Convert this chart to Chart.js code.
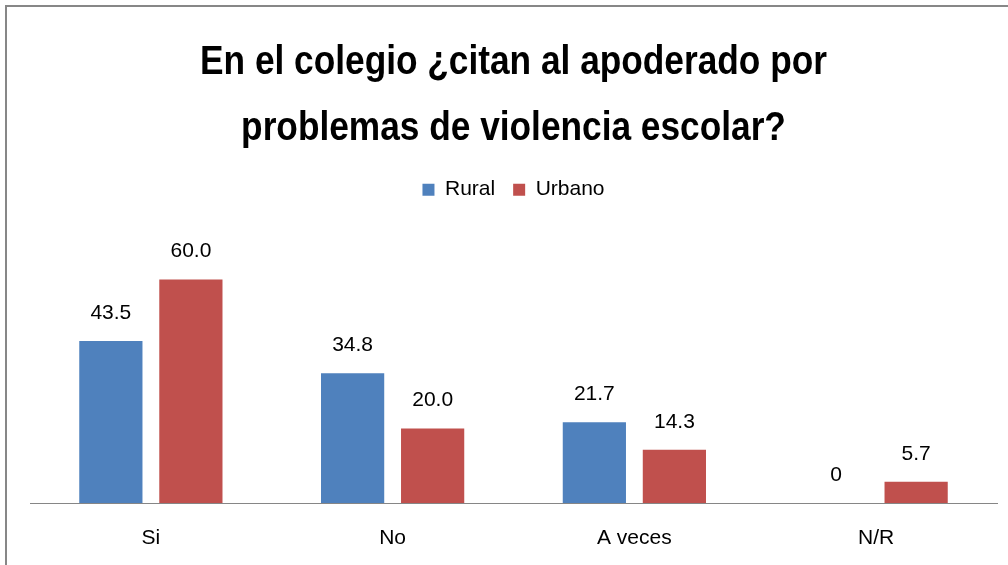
<!DOCTYPE html>
<html>
<head>
<meta charset="utf-8">
<script src="https://cdn.jsdelivr.net/npm/chart.js@4/dist/chart.umd.min.js"></script>
<style>
  html, body { margin: 0; padding: 0; background: #fff; }
  #wrap { position: relative; width: 1008px; height: 565px; overflow: hidden; }
</style>
</head>
<body>
<div id="wrap"><canvas id="chart" width="1008" height="565"></canvas></div>
<script>
const categories = ['Si', 'No', 'A veces', 'N/R'];
const rural = [43.5, 34.8, 21.7, 0];
const urbano = [60.0, 20.0, 14.3, 5.7];
const titleLines = ['En el colegio ¿citan al apoderado por', 'problemas de violencia escolar?'];

const FONT = "'Liberation Sans', Arial, sans-serif";

// marco gris que se corta a la derecha y abajo
const framePlugin = {
  id: 'frame',
  beforeDraw(chart) {
    const ctx = chart.ctx;
    ctx.save();
    ctx.fillStyle = '#fff';
    ctx.fillRect(0, 0, chart.width, chart.height);
    ctx.strokeStyle = '#878787';
    ctx.lineWidth = 2;
    ctx.strokeRect(6, 6, chart.width + 20, chart.height + 20);
    ctx.restore();
  }
};

// valores encima de cada barra
const valueLabels = {
  id: 'valueLabels',
  afterDatasetsDraw(chart) {
    const ctx = chart.ctx;
    ctx.save();
    ctx.font = `21px ${FONT}`;
    ctx.fillStyle = '#000';
    ctx.textAlign = 'center';
    ctx.textBaseline = 'middle';
    chart.data.datasets.forEach((ds, i) => {
      chart.getDatasetMeta(i).data.forEach((bar, j) => {
        const v = ds.data[j];
        const txt = v === 0 ? '0' : v.toFixed(1);
        ctx.fillText(txt, bar.x, bar.y - 28);
      });
    });
    ctx.restore();
  }
};

// espacio extra bajo la leyenda + titulo mas estrecho (tipo Calibri)
const layoutTweaks = {
  id: 'layoutTweaks',
  beforeInit(chart) {
    const fit = chart.legend.fit;
    chart.legend.fit = function () {
      fit.bind(chart.legend)();
      this.height += 32;
    };
    const tb = chart.titleBlock;
    const draw = tb.draw;
    tb.draw = function () {
      const ctx = chart.ctx;
      const cx = (this.left + this.right) / 2;
      ctx.save();
      ctx.translate(cx, 0);
      ctx.scale(0.86, 1);
      ctx.translate(-cx, 0);
      draw.call(this);
      ctx.restore();
    };
  }
};

new Chart(document.getElementById('chart'), {
  type: 'bar',
  data: {
    labels: categories,
    datasets: [
      { label: 'Rural', data: rural, backgroundColor: '#4F81BD' },
      { label: 'Urbano', data: urbano, backgroundColor: '#C0504D' }
    ]
  },
  options: {
    responsive: false,
    animation: false,
    layout: { padding: { left: 30, right: 11, top: 0, bottom: -1 } },
    datasets: {
      bar: { categoryPercentage: 0.662, barPercentage: 0.79 }
    },
    scales: {
      x: {
        grid: { display: false },
        border: { display: true, color: '#868686', width: 1 },
        ticks: { color: '#000', padding: 17, font: { family: FONT, size: 21, lineHeight: 1.0 } }
      },
      y: {
        display: false,
        min: 0,
        max: 70
      }
    },
    plugins: {
      title: {
        display: true,
        text: titleLines,
        color: '#000',
        font: { family: FONT, size: 41, weight: 'bold', lineHeight: 1.6 },
        padding: { top: 30, bottom: 0 }
      },
      legend: {
        position: 'top',
        labels: {
          color: '#000',
          boxWidth: 12,
          boxHeight: 12,
          padding: 18,
          font: { family: FONT, size: 21 }
        }
      },
      tooltip: { enabled: false }
    }
  },
  plugins: [framePlugin, valueLabels, layoutTweaks]
});
</script>
</body>
</html>
